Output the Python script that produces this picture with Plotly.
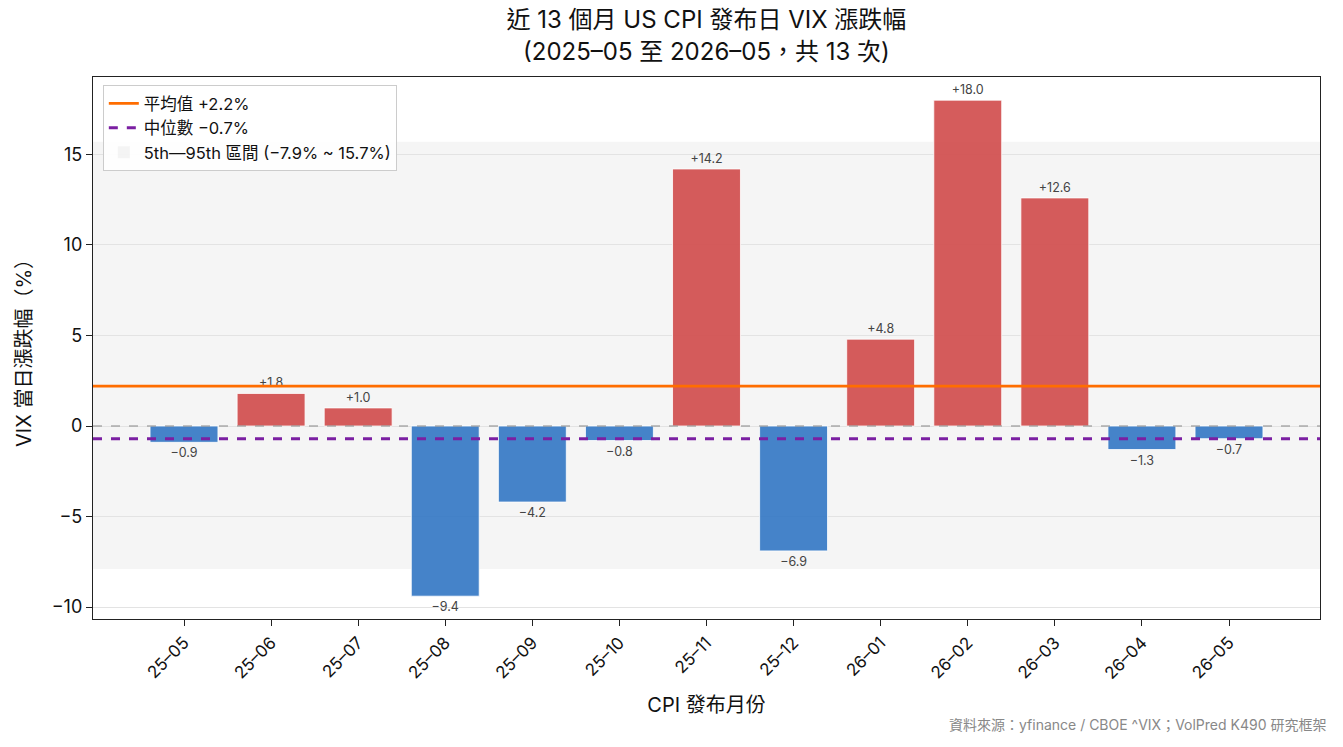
import plotly.graph_objects as go

months = ["25–05", "25–06", "25–07", "25–08", "25–09", "25–10", "25–11",
          "25–12", "26–01", "26–02", "26–03", "26–04", "26–05"]
vix_change = [-0.9, 1.8, 1.0, -9.4, -4.2, -0.8, 14.2, -6.9, 4.8, 18.0, 12.6, -1.3, -0.7]
mean_val = 2.2
median_val = -0.7
p5, p95 = -7.9, 15.7

RED = "rgba(208,74,74,0.9)"
BLUE = "rgba(53,120,196,0.92)"
FONT = "Inter, Noto Sans CJK TC, sans-serif"

def fmt(v):
    s = f"{v:+.1f}"
    return s.replace("-", "−")

colors = [RED if v >= 0 else BLUE for v in vix_change]
labels = [fmt(v) for v in vix_change]

fig = go.Figure()
fig.add_trace(go.Bar(
    x=list(range(len(months))), y=vix_change,
    marker=dict(color=colors, line=dict(color="rgba(255,255,255,0.8)", width=1)),
    width=0.78,
    text=labels, textposition="outside",
    outsidetextfont=dict(size=12.5, color="#444", family=FONT),
    cliponaxis=False, showlegend=False, hoverinfo="skip",
))

fig.add_shape(type="rect", xref="paper", yref="y", x0=0, x1=1, y0=p5, y1=p95,
              fillcolor="rgba(200,200,200,0.18)", line=dict(width=0), layer="below",
              showlegend=True, name="5th—95th 區間 (−7.9% ~ 15.7%)", legendrank=3)
fig.add_shape(type="line", xref="paper", yref="y", x0=0, x1=1, y0=0, y1=0,
              line=dict(color="#888", width=1.2, dash="dash"), layer="above")
fig.add_shape(type="line", xref="paper", yref="y", x0=0, x1=1, y0=mean_val, y1=mean_val,
              line=dict(color="#ff6d00", width=2.8), layer="above",
              showlegend=True, name=f"平均值 +{mean_val:.1f}%", legendrank=1)
fig.add_shape(type="line", xref="paper", yref="y", x0=0, x1=1, y0=median_val, y1=median_val,
              line=dict(color="#7b1fa2", width=3, dash="dash"), layer="above",
              showlegend=True, name=f"中位數 −{abs(median_val):.1f}%", legendrank=2)

fig.update_layout(
    width=1343, height=747,
    margin=dict(l=93, r=23, t=77, b=128),
    paper_bgcolor="white", plot_bgcolor="white",
    font=dict(family=FONT, size=14, color="#111"),
    title=dict(text="近 13 個月 US CPI 發布日 VIX 漲跌幅<br>(2025–05 至 2026–05，共 13 次)",
               x=0.526, xanchor="center", y=0.962, yanchor="top",
               font=dict(size=24, color="#111")),
    bargap=0.2,
    legend=dict(x=0.008, y=0.985, xanchor="left", yanchor="top",
                bgcolor="rgba(255,255,255,0.9)", bordercolor="#ccc", borderwidth=1,
                font=dict(size=16.5), traceorder="normal", tracegroupgap=2),
    annotations=[dict(text="資料來源：yfinance / CBOE ^VIX；VolPred K490 研究框架",
                      xref="paper", yref="paper", x=1.0065, y=-0.194, xanchor="right",
                      yanchor="middle", showarrow=False,
                      font=dict(size=14, color="#888"))],
)
fig.update_xaxes(
    range=[-1.045, 12 + 1.045], tickmode="array",
    tickvals=list(range(len(months))), ticktext=months, tickangle=-45,
    showgrid=False, zeroline=False, showline=True, linecolor="#222", linewidth=1.3,
    mirror=True, ticks="outside", ticklen=6, tickcolor="#222",
    tickfont=dict(size=17),
    title=dict(text="CPI 發布月份", font=dict(size=20), standoff=15),
)
fig.update_yaxes(
    range=[-10.66, 19.28], tickvals=[-10, -5, 0, 5, 10, 15],
    showgrid=True, gridcolor="#e3e3e3", gridwidth=1, zeroline=False,
    showline=True, linecolor="#222", linewidth=1.3, mirror=True,
    ticks="outside", ticklen=6, tickcolor="#222", tickfont=dict(size=18),
    title=dict(text="VIX 當日漲跌幅（%）", font=dict(size=20), standoff=14),
)

fig.write_html("out.html")
